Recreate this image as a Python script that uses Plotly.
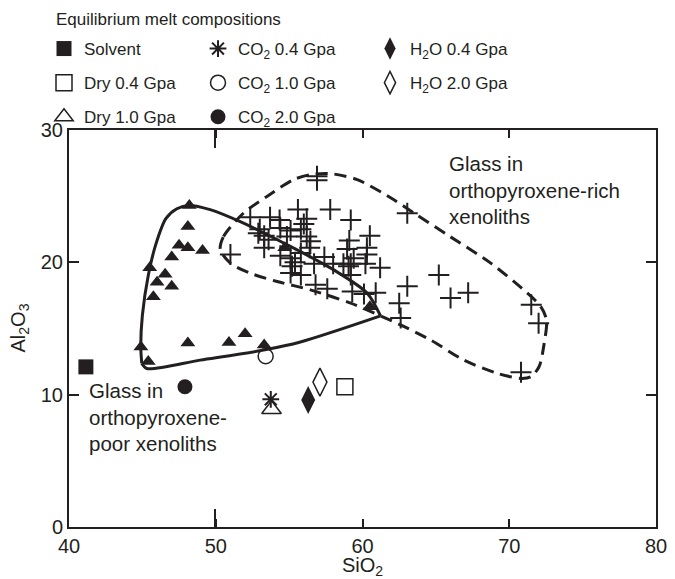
import plotly.graph_objects as go

INK = "#231f20"
FONT = "Liberation Sans, Arial, Helvetica, sans-serif"

# Glass in orthopyroxene-rich xenoliths (crosses)
rich_x = [51.0, 52.35, 53.7, 54.35, 55.6, 56.9, 56.9, 57.8, 59.2, 56.2, 56.0, 55.8,
          54.4, 55.1, 53.0, 52.9, 53.3, 53.6, 54.85, 56.2, 56.45, 53.3, 56.4, 54.4,
          55.1, 55.8, 55.4, 57.4, 58.0, 58.7, 55.2, 55.1, 55.8, 56.7, 56.8, 57.6,
          59.3, 60.1, 60.9, 61.2, 62.5, 62.6, 60.5, 59.1, 58.95, 60.3, 60.3, 60.2,
          59.2, 59.4, 59.05, 59.2, 63.05, 63.05, 65.2, 67.2, 66.0, 71.5, 72.0, 70.8]
rich_y = [20.6, 23.4, 23.4, 23.2, 24.0, 26.5, 26.2, 24.0, 23.2, 23.3, 22.9, 22.5,
          22.6, 22.4, 22.5, 22.2, 22.0, 21.7, 21.95, 21.95, 21.6, 21.1, 21.1, 20.5,
          20.3, 20.7, 20.0, 20.4, 19.9, 19.9, 19.7, 19.2, 19.05, 19.9, 18.3, 18.0,
          17.8, 17.6, 17.7, 19.6, 16.9, 15.8, 22.0, 21.65, 21.0, 21.1, 20.6, 19.9,
          19.9, 20.3, 19.7, 19.05, 23.7, 18.2, 19.05, 17.7, 17.3, 16.8, 15.4, 11.7]

# Glass in orthopyroxene-poor xenoliths (filled triangles)
poor_x = [48.2, 48.1, 47.5, 48.1, 49.1, 47.0, 45.5, 46.55, 46.0, 47.0, 45.75,
          44.9, 45.4, 48.1, 50.9, 52.0, 53.3, 54.7, 60.5]
poor_y = [24.3, 22.7, 21.3, 21.1, 20.9, 20.4, 19.6, 19.1, 18.5, 18.2, 17.4,
          13.6, 12.5, 13.9, 13.95, 14.6, 13.75, 21.1, 16.65]

# Equilibrium melt compositions
solvent = (41.15, 12.1)
dry04 = (58.8, 10.6)
dry10 = (53.8, 8.9)
co2_04 = (53.75, 9.65)
co2_10 = (53.4, 12.9)
co2_20 = (47.9, 10.6)
h2o_04 = (56.3, 9.6)
h2o_20 = (57.1, 10.95)

# Field outlines
poor_upper_x = [44.96, 44.89, 45.0, 45.4, 45.9, 46.6, 47.35, 48.21, 49.62, 51.67,
                54.86, 58.04, 60.32, 61.23]
poor_upper_y = [12.36, 13.62, 16.0, 19.0, 21.3, 23.3, 24.05, 24.3, 23.98, 23.07,
                21.33, 19.43, 17.67, 15.95]
poor_lower_x = [61.23, 55.77, 53.26, 48.94, 45.30, 44.96]
poor_lower_y = [15.95, 13.98, 13.37, 12.61, 11.98, 12.36]

rich_out_x = [50.31, 50.53, 51.90, 53.49, 55.31, 56.45, 57.82, 59.64, 62.14, 63.50,
              65.78, 68.74, 71.24, 72.15, 72.54, 72.38, 72.03, 71.47, 70.78, 69.19,
              66.91, 64.64, 62.59, 59.20, 56.45, 54.18, 52.35, 50.99, 50.31]
rich_out_y = [20.95, 21.95, 23.73, 24.98, 26.25, 26.63, 26.70, 26.25, 24.73, 23.73,
              22.08, 19.94, 17.67, 16.65, 15.64, 13.88, 12.11, 11.35, 11.23, 11.61,
              12.61, 14.13, 15.27, 16.91, 17.92, 18.55, 19.18, 19.94, 20.95]

x_ticks = [40, 50, 60, 70, 80]
x_long_tick = [49.97]
y_ticks = [0, 10, 20, 30]

fig = go.Figure()

# outlines
fig.add_trace(go.Scatter(x=rich_out_x, y=rich_out_y, mode="lines", showlegend=False,
                         line=dict(color=INK, width=3, dash="12px,7px", shape="spline", smoothing=0.8),
                         hoverinfo="skip"))
fig.add_trace(go.Scatter(x=poor_upper_x, y=poor_upper_y, mode="lines", showlegend=False,
                         line=dict(color=INK, width=3, shape="spline", smoothing=0.8),
                         hoverinfo="skip"))
fig.add_trace(go.Scatter(x=poor_lower_x, y=poor_lower_y, mode="lines", showlegend=False,
                         line=dict(color=INK, width=3, shape="spline", smoothing=0.8),
                         hoverinfo="skip"))

fig.add_trace(go.Scatter(x=rich_x, y=rich_y, mode="markers", showlegend=False,
                         name="Glass in orthopyroxene-rich xenoliths",
                         marker=dict(symbol="cross-thin-open", size=15, color=INK,
                                     line=dict(width=2, color=INK))))
fig.add_trace(go.Scatter(x=poor_x, y=poor_y, mode="markers", showlegend=False,
                         name="Glass in orthopyroxene-poor xenoliths",
                         marker=dict(symbol="triangle-up", size=13, color=INK,
                                     line=dict(width=0))))

def pt(p, name, symbol, size, legend, group, lw=1.5):
    fig.add_trace(go.Scatter(x=[p[0]], y=[p[1]], mode="markers", name=name,
                             legend=legend, legendgroup=group,
                             marker=dict(symbol=symbol, size=size, color=INK,
                                         line=dict(width=lw, color=INK))))

pt(solvent, "Solvent", "square", 15, "legend", "a", 0)
pt(dry04, "Dry 0.4 Gpa", "square-open", 16, "legend", "b")
pt(dry10, "Dry 1.0 Gpa", "triangle-up-open", 17, "legend", "c")
pt(co2_04, "CO<sub>2</sub> 0.4 Gpa", "asterisk-open", 14, "legend2", "d", 2)
pt(co2_10, "CO<sub>2</sub> 1.0 Gpa", "circle-open", 15, "legend2", "e")
pt(co2_20, "CO<sub>2</sub> 2.0 Gpa", "circle", 15, "legend2", "f", 0)
pt(h2o_04, "H<sub>2</sub>O 0.4 Gpa", "diamond-tall", 20, "legend3", "g", 0)
pt(h2o_20, "H<sub>2</sub>O 2.0 Gpa", "diamond-tall-open", 20, "legend3", "h")

tickfont = dict(family=FONT, size=20, color=INK)
legfont = dict(family=FONT, size=17, color=INK)

def leg(x):
    return dict(x=x / 675, y=1 - 23 / 579, xref="container", yref="container",
                xanchor="left", yanchor="top", bgcolor="rgba(0,0,0,0)",
                font=legfont, tracegroupgap=9, itemsizing="trace")

fig.update_layout(
    width=675, height=579,
    margin=dict(l=61, r=27, t=122, b=60, autoexpand=False),
    paper_bgcolor="white", plot_bgcolor="white",
    font=dict(family=FONT, color=INK),
    xaxis=dict(range=[40, 80], tickvals=x_ticks, ticks="inside", ticklen=8, tickwidth=1.5,
               tickcolor=INK, showline=True, linewidth=2, linecolor=INK, mirror="ticks",
               showgrid=False, zeroline=False, tickfont=tickfont,
               minor=dict(tickmode="array", tickvals=x_long_tick, ticks="inside",
                          ticklen=18, tickwidth=1.5, tickcolor=INK, showgrid=False)),
    yaxis=dict(range=[0, 30], tickvals=y_ticks, ticks="inside", ticklen=10, tickwidth=1.5,
               tickcolor=INK, showline=True, linewidth=2, linecolor=INK, mirror="ticks",
               showgrid=False, zeroline=False, tickfont=tickfont),
    legend=leg(36),
    legend2=leg(190),
    legend3=leg(362),
    annotations=[
        dict(text="Equilibrium melt compositions", xref="paper", yref="paper",
             x=(54 - 69) / 587, y=(526.5 - 20) / 396.5,
             xanchor="left", yanchor="middle", showarrow=False, font=legfont),
        dict(text="SiO<sub>2</sub>", xref="paper", yref="paper",
             x=0.5, y=-(566 - 526.5) / 396.5, xanchor="center", yanchor="middle",
             showarrow=False, font=tickfont),
        dict(text="Al<sub>2</sub>O<sub>3</sub>", xref="paper", yref="paper",
             x=-(69 - 19) / 587, y=0.5, xanchor="center", yanchor="middle",
             textangle=-90, showarrow=False, font=tickfont),
        dict(text="Glass in<br>orthopyroxene-rich<br>xenoliths", x=65.78, y=28.5,
             xanchor="left", yanchor="top", align="left", showarrow=False,
             font=dict(family=FONT, size=20.5, color=INK)),
        dict(text="Glass in<br>orthopyroxene-<br>poor xenoliths", x=41.2, y=11.3,
             xanchor="left", yanchor="top", align="left", showarrow=False,
             font=dict(family=FONT, size=20.5, color=INK)),
    ],
)

fig.write_html("out.html")
